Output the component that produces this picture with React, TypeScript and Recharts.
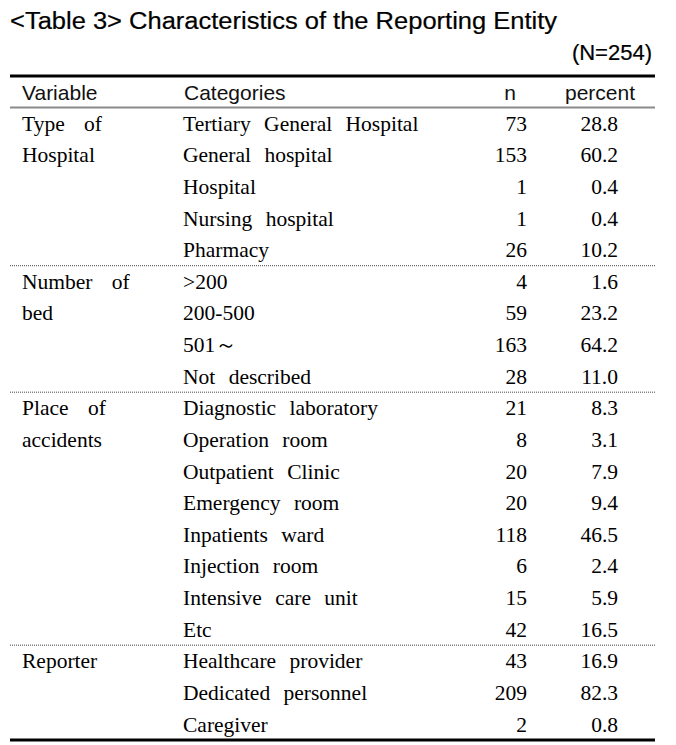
import React from "react";
import { ComposedChart, XAxis, YAxis, ReferenceLine, Scatter } from "recharts";

const title = "<Table 3> Characteristics of the Reporting Entity";
const sampleNote = "(N=254)";
const headers = ["Variable", "Categories", "n", "percent"];
const variableLines = [
  "Type of", "Hospital", "", "", "",
  "Number of", "bed", "", "",
  "Place of", "accidents", "", "", "", "", "", "",
  "Reporter", "", "",
];
const categories = [
  "Tertiary General Hospital", "General hospital", "Hospital", "Nursing hospital", "Pharmacy",
  ">200", "200-500", "501～", "Not described",
  "Diagnostic laboratory", "Operation room", "Outpatient Clinic", "Emergency room",
  "Inpatients ward", "Injection room", "Intensive care unit", "Etc",
  "Healthcare provider", "Dedicated personnel", "Caregiver",
];
const counts = [73, 153, 1, 1, 26, 4, 59, 163, 28, 21, 8, 20, 20, 118, 6, 15, 42, 43, 209, 2];
const percents = [28.8, 60.2, 0.4, 0.4, 10.2, 1.6, 23.2, 64.2, 11.0, 8.3, 3.1, 7.9, 9.4, 46.5, 2.4, 5.9, 16.5, 16.9, 82.3, 0.8];
const groupLastRows = [4, 8, 16];

const rows = categories.map((c, i) => ({
  row: i,
  variable: variableLines[i],
  category: c,
  n: counts[i],
  percent: percents[i],
}));
const HEADER_ROW = -1;
const tickValues = [HEADER_ROW, ...rows.map((r) => r.row)];

const W = 676;
const H = 745;
const COL_VAR = 22;
const COL_CAT = 183;
const COL_N = 527;
const COL_PCT = 618;

const serif = "'Liberation Serif', 'Times New Roman', serif";
const sans = "'Liberation Sans', Arial, sans-serif";

function RowTick(props: any) {
  const { y, payload } = props;
  const v = payload?.value;
  if (v === HEADER_ROW) {
    const common = { fontFamily: sans, fontSize: 21, fill: "#111", dy: "0.37em" } as any;
    return (
      <g>
        <text x={COL_VAR} y={y} {...common}>{headers[0]}</text>
        <text x={COL_CAT + 1} y={y} {...common}>{headers[1]}</text>
        <text x={510} y={y} textAnchor="middle" {...common}>{headers[2]}</text>
        <text x={565} y={y} {...common}>{headers[3]}</text>
      </g>
    );
  }
  const r = rows[v];
  if (!r) return <g />;
  const common = { fontFamily: serif, fontSize: 21.5, fill: "#000", dy: "0.34em" } as any;
  return (
    <g>
      {r.variable ? (
        <text x={COL_VAR} y={y} {...common} style={{ wordSpacing: "14px" }}>{r.variable}</text>
      ) : null}
      <text x={COL_CAT} y={y} {...common} style={{ wordSpacing: "8px" }}>{r.category}</text>
      <text x={COL_N} y={y} textAnchor="end" {...common}>{r.n}</text>
      <text x={COL_PCT} y={y} textAnchor="end" {...common}>{r.percent.toFixed(1)}</text>
    </g>
  );
}

export default function App() {
  return (
    <div style={{ position: "relative", width: W, height: H, background: "#fff" }}>
      <style>{`body{margin:0;background:#fff}`}</style>
      <ComposedChart
        width={W}
        height={H}
        data={rows}
        margin={{ top: 76, right: 21, bottom: 5, left: 9 }}
      >
        <XAxis type="number" dataKey="n" domain={[0, 300]} hide />
        <YAxis
          type="number"
          dataKey="row"
          domain={[-1.5, 19.5]}
          reversed
          ticks={tickValues}
          interval={0}
          width={1}
          axisLine={false}
          tickLine={false}
          tick={(p: any) => <RowTick {...p} />}
        />
        <Scatter dataKey="row" isAnimationActive={false} fill="transparent" shape={() => <g />} />
        <ReferenceLine y={-1.5} stroke="#000" strokeWidth={3} ifOverflow="visible" />
        <ReferenceLine y={-0.5} stroke="#8a8a8a" strokeWidth={2} ifOverflow="visible" />
        {groupLastRows.map((g) => (
          <ReferenceLine key={g} y={g + 0.5} stroke="#444" strokeWidth={1} strokeDasharray="1 1" ifOverflow="visible" />
        ))}
        <ReferenceLine y={19.5} stroke="#000" strokeWidth={3} ifOverflow="visible" />
      </ComposedChart>
      <svg width={W} height={72} style={{ position: "absolute", left: 0, top: 0, pointerEvents: "none" }}>
        <text x={10} y={29} fontFamily={sans} fontSize={23} fill="#000" stroke="#000" strokeWidth={0.2} textLength={547} lengthAdjust="spacingAndGlyphs">
          {title}
        </text>
        <text x={652} y={60} fontFamily={sans} fontSize={22} fill="#000" stroke="#000" strokeWidth={0.2} textAnchor="end">
          {sampleNote}
        </text>
      </svg>
    </div>
  );
}
